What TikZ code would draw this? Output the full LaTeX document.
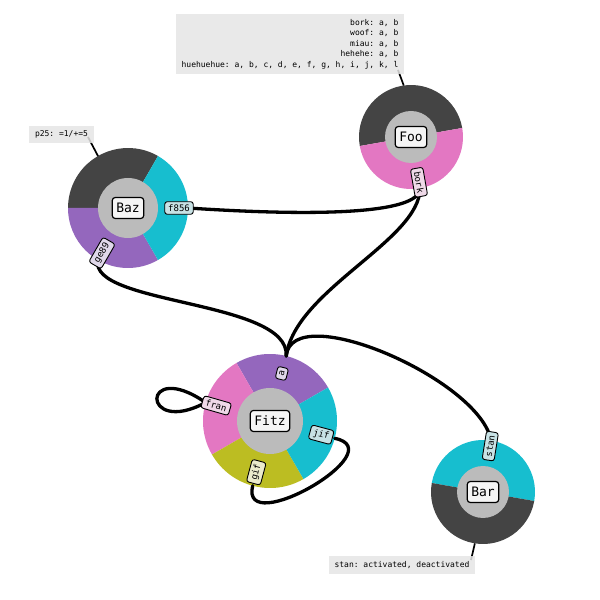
\documentclass[tikz,border=0pt]{standalone}
\usepackage{fontspec}
\setmonofont{DejaVu Sans Mono}
\usetikzlibrary{calc}
\definecolor{tdark}{HTML}{444444}
\definecolor{tcyan}{HTML}{17BECF}
\definecolor{tpurple}{HTML}{9467BD}
\definecolor{tpink}{HTML}{E377C2}
\definecolor{tolive}{HTML}{BCBD22}
\definecolor{hubgray}{HTML}{BBBBBB}
\definecolor{notegray}{HTML}{E5E5E5}
\definecolor{pcyan}{HTML}{C8E2E5}
\definecolor{ppurple}{HTML}{E0D8EA}
\definecolor{ppink}{HTML}{EFD9E8}
\definecolor{polive}{HTML}{EBEBCC}
\newcommand{\ringpart}[5]{\fill[#5] (#1) -- ++(#2:#4) arc[start angle=#2, end angle=#3, radius=#4pt] -- cycle;}

\begin{document}
\begin{tikzpicture}[x=1pt, y=1pt, font=\ttfamily,
  wire/.style={line width=3.3pt, line cap=round},
  noteline/.style={line width=1.7pt},
  namebox/.style={draw, line width=1.2pt, rounded corners=3pt, fill=white!96!black, inner xsep=4pt, minimum height=21pt, font=\ttfamily\fontsize{13}{15}\selectfont},
  portbox/.style={draw, line width=0.9pt, rounded corners=2.5pt, inner xsep=3.4pt, inner ysep=2.8pt, font=\ttfamily\fontsize{9}{10}\selectfont},
  notebox/.style={fill=notegray, fill opacity=0.85, text opacity=1, inner xsep=5.6pt, inner ysep=5pt, font=\ttfamily\fontsize{8}{10.5}\selectfont}]
\useasboundingbox (0,0) rectangle (600,600);
\coordinate (baz) at (128,392);
\coordinate (foo) at (411,463);
\coordinate (bar) at (483,108);
\coordinate (fitz) at (270,179);

\ringpart{baz}{60}{180}{60}{tdark}
\ringpart{baz}{180}{300}{60}{tpurple}
\ringpart{baz}{300}{420}{60}{tcyan}
\fill[hubgray] (baz) circle[radius=30pt];
\ringpart{foo}{10}{190}{52}{tdark}
\ringpart{foo}{190}{370}{52}{tpink}
\fill[hubgray] (foo) circle[radius=26pt];
\ringpart{bar}{-10}{170}{52}{tcyan}
\ringpart{bar}{170}{350}{52}{tdark}
\fill[hubgray] (bar) circle[radius=26pt];
\ringpart{fitz}{30}{120}{67}{tpurple}
\ringpart{fitz}{120}{210}{67}{tpink}
\ringpart{fitz}{210}{300}{67}{tolive}
\ringpart{fitz}{300}{390}{67}{tcyan}
\fill[hubgray] (fitz) circle[radius=33pt];

\coordinate (baz-f856) at ($(baz)+(0:60)$);
\coordinate (baz-ge89) at ($(baz)+(240:60)$);
\coordinate (foo-bork) at ($(foo)+(-80:52)$);
\coordinate (bar-stan) at ($(bar)+(81:52)$);
\coordinate (fitz-a) at ($(fitz)+(76:67)$);
\coordinate (fitz-jif) at ($(fitz)+(-15:67)$);
\coordinate (fitz-gif) at ($(fitz)+(255:67)$);
\coordinate (fitz-fran) at ($(fitz)+(164:67)$);

\draw[wire] (baz-f856) .. controls +(120,-8) and +(0,-27) .. (foo-bork);
\draw[wire] (baz-ge89) .. controls +(-10,-45) and +(4,56) .. (fitz-a);
\draw[wire] (foo-bork) .. controls +(0,-52) and +(9,66) .. (fitz-a);
\draw[wire] (bar-stan) .. controls +(-11,61) and +(6,58) .. (fitz-a);
\draw[wire] (fitz-fran) .. controls +(-65,45) and +(-65,-35) .. (fitz-fran);
\draw[wire] (fitz-jif) .. controls +(60,-12) and +(-13,-54) .. (fitz-gif);

\node[portbox, fill=pcyan] (baz-f856-l) at ($(baz)+(0:51)$) {f856};
\node[portbox, fill=ppurple, rotate=60] (baz-ge89-l) at ($(baz)+(240:52)$) {ge89};
\node[portbox, fill=ppink, rotate=-80] (foo-bork-l) at ($(foo)+(-80:46)$) {bork};
\node[portbox, fill=pcyan, rotate=81] (bar-stan-l) at ($(bar)+(81:46.5)$) {stan};
\node[portbox, fill=ppurple, rotate=76] (fitz-a-l) at ($(fitz)+(76:49)$) {a};
\node[portbox, fill=pcyan, rotate=-15] (fitz-jif-l) at ($(fitz)+(-15:53)$) {jif};
\node[portbox, fill=polive, rotate=75] (fitz-gif-l) at ($(fitz)+(255:53)$) {gif};
\node[portbox, fill=ppink, rotate=-16] (fitz-fran-l) at ($(fitz)+(164:56)$) {fran};

\node[namebox] (baz-name) at (baz) {Baz};
\node[namebox] (foo-name) at (foo) {Foo};
\node[namebox] (bar-name) at (bar) {Bar};
\node[namebox] (fitz-name) at (fitz) {Fitz};

\coordinate (foo-pin) at ($(foo)+(98:52)$);
\coordinate (baz-pin) at ($(baz)+(120:60)$);
\coordinate (bar-pin) at ($(bar)+(261:52)$);
\coordinate (foo-note-end) at (398,530);
\coordinate (baz-note-end) at (88,463);
\coordinate (bar-note-end) at (471,40);
\draw[noteline] (foo-pin) -- (foo-note-end);
\draw[noteline] (baz-pin) -- (baz-note-end);
\draw[noteline] (bar-pin) -- (bar-note-end);

\node[notebox, align=right] (foo-note) at (290,556) {bork: a, b\\woof: a, b\\miau: a, b\\hehehe: a, b\\huehuehue: a, b, c, d, e, f, g, h, i, j, k, l};
\node[notebox] (baz-note) at (61.5,465.5) {p25: =1/+=5};
\node[notebox] (bar-note) at (402,35) {stan: activated, deactivated};
\end{tikzpicture}
\end{document}
